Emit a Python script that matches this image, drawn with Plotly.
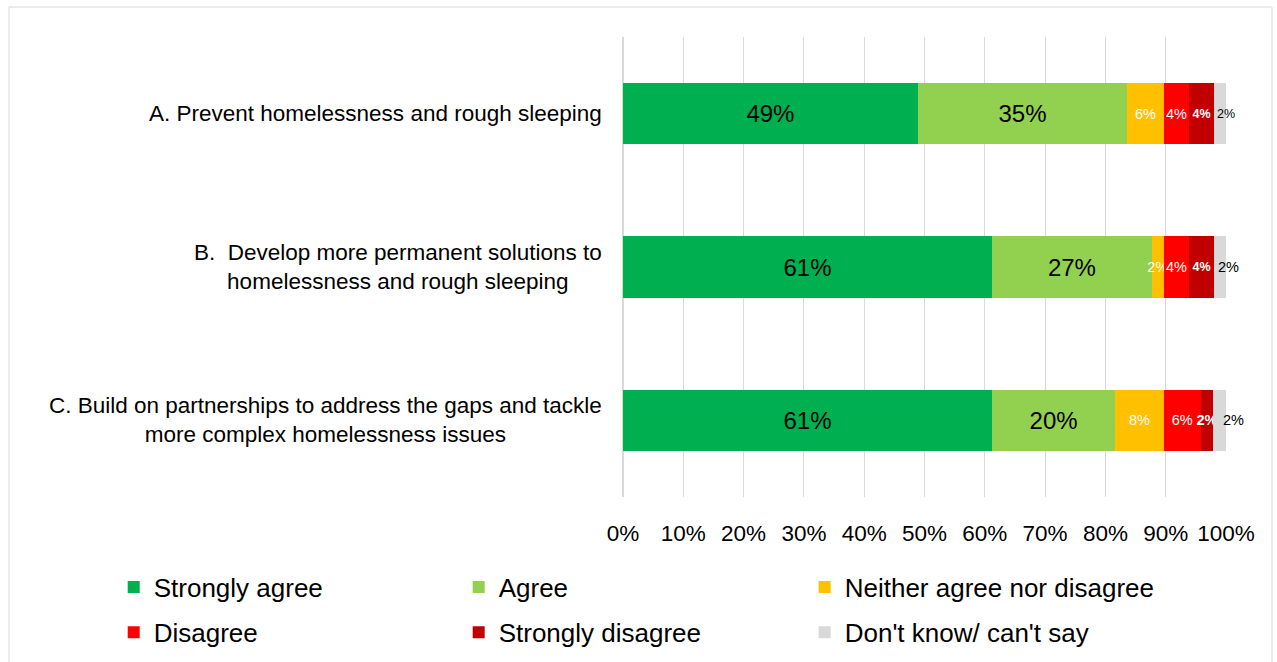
import plotly.graph_objects as go

categories = ["A. Prevent homelessness and rough sleeping",
              "B.  Develop more permanent solutions to<br>homelessness and rough sleeping",
              "C. Build on partnerships to address the gaps and tackle<br>more complex homelessness issues"]
cat_keys = ["A", "B", "C"]

series_names = ["Strongly agree", "Agree", "Neither agree nor disagree",
                "Disagree", "Strongly disagree", "Don't know/ can't say"]
strongly_agree = [48.9, 61.2, 61.2]
agree = [34.7, 26.5, 20.4]
neither = [6.1, 2.0, 8.1]
disagree = [4.2, 4.2, 6.1]
strongly_disagree = [4.1, 4.1, 2.1]
dont_know = [2.0, 2.0, 2.1]
labels = [
    ["49%", "61%", "61%"],
    ["35%", "27%", "20%"],
    ["6%", "2%", "8%"],
    ["4%", "4%", "6%"],
    ["4%", "4%", "2%"],
    ["2%", "2%", "2%"],
]
tick_vals = [0, 10, 20, 30, 40, 50, 60, 70, 80, 90, 100]
tick_text = ["0%", "10%", "20%", "30%", "40%", "50%", "60%", "70%", "80%", "90%", "100%"]

values = [strongly_agree, agree, neither, disagree, strongly_disagree, dont_know]
colors = ["#00B050", "#92D050", "#FFC000", "#FF0000", "#C00000", "#D9D9D9"]
FONT = "Liberation Sans"
text_fonts = [
    dict(size=24, color="black", family=FONT),
    dict(size=24, color="black", family=FONT),
    dict(size=14.5, color="white", family=FONT),
    dict(size=14.5, color="white", family=FONT),
    dict(size=[12.5, 12.5, 14.5], color="white", family=FONT, weight="bold"),
]

# one legend per entry, laid out as a 3 x 2 grid below the plot
legend_ids = ["legend", "legend2", "legend3", "legend4", "legend5", "legend6"]
legend_x = [-0.8446, -0.2725, 0.3013, -0.8446, -0.2725, 0.3013]
legend_y = [-0.196, -0.196, -0.196, -0.294, -0.294, -0.294]

fig = go.Figure()
for i, name in enumerate(series_names):
    is_dk = i == len(series_names) - 1
    fig.add_trace(go.Bar(
        y=cat_keys, x=values[i], name=name, orientation="h",
        marker=dict(color=colors[i], line=dict(width=0)),
        text=None if is_dk else labels[i],
        textposition="none" if is_dk else "inside",
        insidetextanchor="middle",
        constraintext="none", textangle=0,
        textfont=None if is_dk else text_fonts[i],
        legend=legend_ids[i], hoverinfo="name+x",
    ))

annotations = []
for key, lab in zip(cat_keys, categories):
    annotations.append(dict(x=-0.031, xref="paper", y=key, yref="y", text=lab,
                            showarrow=False, xanchor="right", align="center",
                            font=dict(size=22.5, color="black", family=FONT)))

# "Don't know" labels start at the left edge of their segment and spill to the right
dk_sizes = [12.5, 14.5, 14.5]
dk_shift = [1, 2, 8]
for j, key in enumerate(cat_keys):
    start = sum(v[j] for v in values[:-1])
    annotations.append(dict(x=start, xref="x", y=key, yref="y", text=labels[-1][j],
                            showarrow=False, xanchor="left", xshift=dk_shift[j],
                            font=dict(size=dk_sizes[j], color="black", family=FONT)))

layout_legends = {}
for lid, lx, ly in zip(legend_ids, legend_x, legend_y):
    layout_legends[lid] = dict(orientation="h", x=lx, xanchor="left", y=ly, yanchor="middle",
                               font=dict(size=26, color="black", family=FONT),
                               bgcolor="rgba(0,0,0,0)")

fig.update_layout(
    barmode="stack", bargap=0.6,
    width=1277, height=662,
    margin=dict(l=623, r=51, t=37, b=165, autoexpand=False),
    paper_bgcolor="white", plot_bgcolor="white",
    font=dict(family=FONT, size=20, color="black"),
    xaxis=dict(range=[0, 100], tickvals=tick_vals, ticktext=tick_text,
               showgrid=True, gridcolor="#D9D9D9", gridwidth=1,
               zeroline=True, zerolinecolor="#D9D9D9", showline=False,
               ticks="outside", ticklen=16, tickcolor="rgba(0,0,0,0)",
               tickfont=dict(size=22.5, color="black")),
    yaxis=dict(categoryorder="array", categoryarray=cat_keys, autorange="reversed",
               showticklabels=False, showgrid=False, zeroline=False),
    annotations=annotations,
    shapes=[dict(type="rect", xref="paper", yref="paper",
                 x0=-1.0182, x1=1.0763, y0=-0.5, y1=1.0652,
                 line=dict(color="#D9D9D9", width=1), fillcolor="rgba(0,0,0,0)", layer="below")],
    showlegend=True,
    **layout_legends,
)

fig.write_html("out.html")
